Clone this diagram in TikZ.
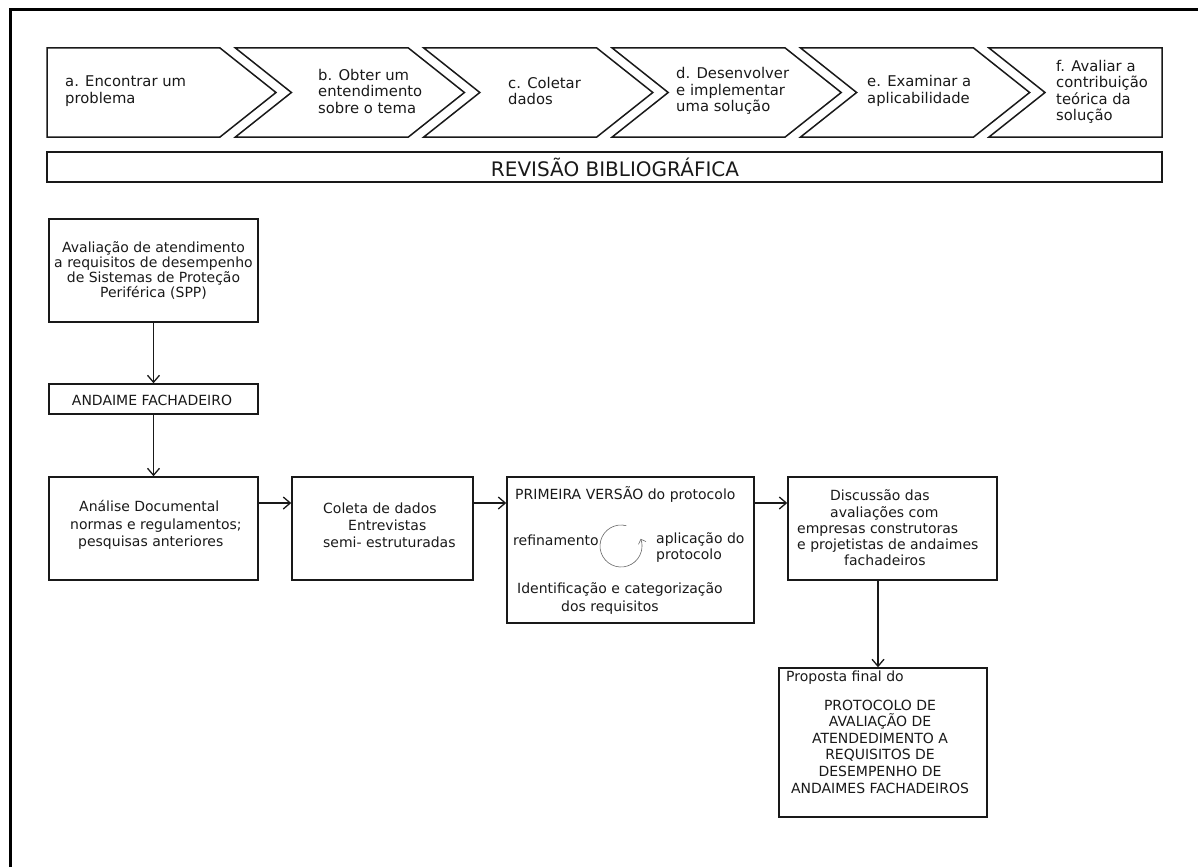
\documentclass[tikz,border=0pt]{standalone}
\usepackage{fontspec}
\setmainfont{DejaVu Sans}
\usetikzlibrary{arrows.meta,calc}
\begin{document}
\begin{tikzpicture}[x=1pt,y=-1pt,
  boxst/.style={draw=black!90, line width=1.5pt, inner sep=0pt, minimum width=#1},
  chev/.style={draw=black!90, line width=1.5pt, line join=miter},
  txt/.style={inner sep=0pt, font=\fontsize{14}{16.5}\selectfont, text=black!90},
  ctxt/.style={txt, align=left, anchor=west, font=\fontsize{14.8}{16.5}\selectfont},
  arr/.style={draw=black!90, line width=1.3pt, -{Straight Barb[length=7pt,width=12pt]}}
]
\useasboundingbox (0,0) rectangle (1198,867);
% outer frame (top and left only)
\draw[line width=3pt] (10,867) -- (10,10) -- (1198,10);

% chevrons
\draw[chev] (47,48) -- (220,48) -- (276,92.5) -- (220,137) -- (47,137) -- cycle;
\foreach \i in {1,2,3,4}{
  \pgfmathsetmacro{\xx}{47+188.4*\i}
  \draw[chev] (\xx,48) -- ({\xx+173},48) -- ({\xx+229},92.5) -- ({\xx+173},137) -- (\xx,137) -- ({\xx+56},92.5) -- cycle;
}
\draw[chev] (989,48) -- (1162,48) -- (1162,137) -- (989,137) -- (1045,92.5) -- cycle;

\node[ctxt] (ta) at (65,91) {a. Encontrar um\\problema};
\node[ctxt] (tb) at (318,91) {b. Obter um\\entendimento\\sobre o tema};
\node[ctxt] (tc) at (508,91) {c. Coletar\\dados};
\node[ctxt] (td) at (676,91) {d. Desenvolver\\e implementar\\uma solução};
\node[ctxt] (te) at (867,91) {e. Examinar a\\aplicabilidade};
\node[ctxt] (tf) at (1056,92) {f. Avaliar a\\contribuição\\teórica da\\solução};

% revisão
\node[boxst=1115pt, minimum height=30pt] (rev) at (604.5,167) {};
\node[txt, font=\fontsize{20}{22}\selectfont] (trev) at (615,167) {REVISÃO BIBLIOGRÁFICA};

% boxes
\node[boxst=209pt, minimum height=103pt] (aval) at (153.5,270.5) {};
\node[boxst=209pt, minimum height=30pt] (and) at (153.5,399) {};
\node[boxst=209pt, minimum height=103pt] (ana) at (153.5,528.5) {};
\node[boxst=181pt, minimum height=103pt] (col) at (382.5,528.5) {};
\node[boxst=247pt, minimum height=146pt] (prim) at (630.5,550) {};
\node[boxst=209pt, minimum height=103pt] (disc) at (892.5,528.5) {};
\node[boxst=208pt, minimum height=149pt] (prop) at (883,742.5) {};

% texts
\node[txt, align=center, font=\fontsize{14}{15}\selectfont] (taval) at (153.5,270) {Avaliação de atendimento\\a requisitos de desempenho\\de Sistemas de Proteção\\Periférica (SPP)};
\node[txt] (tand) at (152,400) {ANDAIME FACHADEIRO};
\node[txt, align=left, anchor=west, font=\fontsize{14}{17.5}\selectfont] (tana) at (70,525) {\hspace*{9pt}Análise Documental\\normas e regulamentos;\\\hspace*{8pt}pesquisas anteriores};
\node[txt, align=left, anchor=west, font=\fontsize{14}{17}\selectfont] (tcol) at (323,525) {Coleta de dados\\\hspace*{25pt}Entrevistas\\semi- estruturadas};
\node[txt, anchor=west] (tprim) at (515,495) {PRIMEIRA VERSÃO do protocolo};
\node[txt, anchor=west] (tref) at (513,540) {refinamento};
\node[txt, align=left, anchor=west] (tapl) at (656,547.5) {aplicação do\\protocolo};
\node[txt, align=left, anchor=west, font=\fontsize{14}{18}\selectfont] (tide) at (517,599) {Identificação e categorização\\\hspace*{44pt}dos requisitos};
\node[txt, align=left, anchor=west, font=\fontsize{14}{16.3}\selectfont] (tdisc) at (797,528) {\hspace*{33pt}Discussão das\\\hspace*{33pt}avaliações com\\empresas construtoras\\e projetistas de andaimes\\\hspace*{47pt}fachadeiros};
\node[txt, anchor=west] (tprop1) at (786,678) {Proposta final do};
\node[txt, align=center, font=\fontsize{14}{16.6}\selectfont] (tprop2) at (880,746.5) {PROTOCOLO DE\\AVALIAÇÃO DE\\ATENDEDIMENTO A\\REQUISITOS DE\\DESEMPENHO DE\\ANDAIMES FACHADEIROS};

% cycle arrow
\coordinate (cyc) at (621,546);
\draw[black!60, line width=0.6pt, -{Straight Barb[length=4pt,width=8pt]}] ($(cyc)+(75:21pt)$) arc[start angle=75, end angle=380, radius=21pt];

% connectors
\draw[arr] (aval.south) -- (and.north);
\draw[arr] (and.south) -- (ana.north);
\draw[arr] (ana.east |- 0,503) -- (col.west |- 0,503);
\draw[arr] (col.east |- 0,503) -- (prim.west |- 0,503);
\draw[arr] (prim.east |- 0,503) -- (disc.west |- 0,503);
\draw[arr] (disc.south -| 878,0) -- (prop.north -| 878,0);
\end{tikzpicture}
\end{document}
